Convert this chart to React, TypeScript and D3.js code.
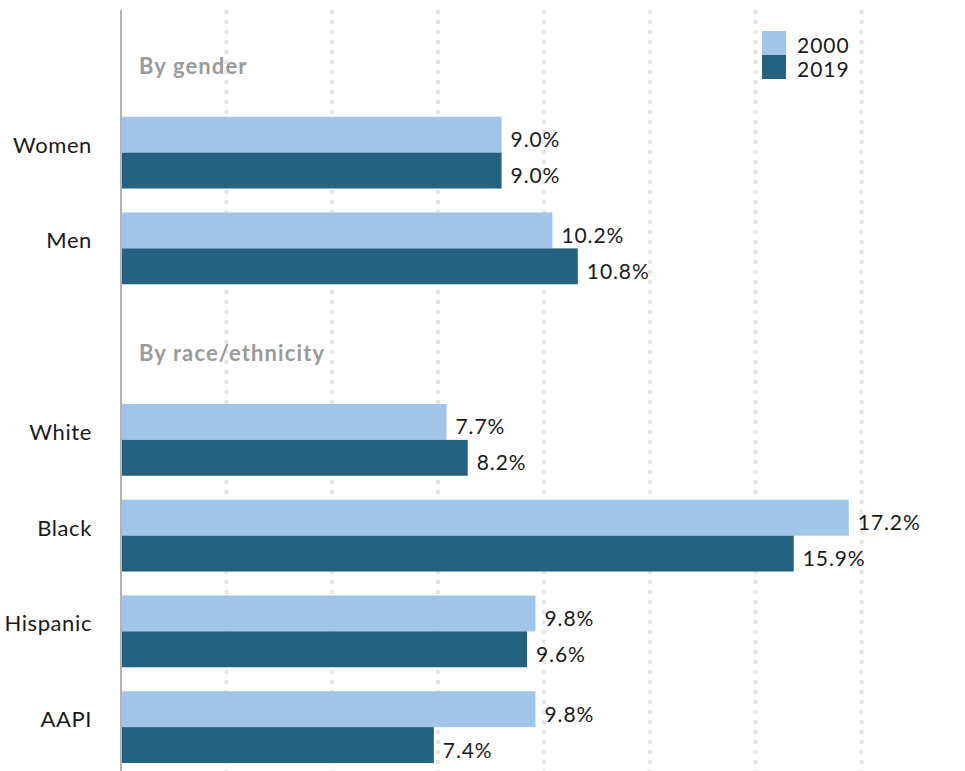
import React from "react";
import * as d3 from "d3";

const rowOrder = ["By gender", "Women", "Men", "By race/ethnicity", "White", "Black", "Hispanic", "AAPI"];
const headings = ["By gender", "By race/ethnicity"];
const groups = ["Women", "Men", "White", "Black", "Hispanic", "AAPI"];
const values2000 = [9.0, 10.2, 7.7, 17.2, 9.8, 9.8];
const values2019 = [9.0, 10.8, 8.2, 15.9, 9.6, 7.4];
const seriesNames = ["2000", "2019"];
const gridTicks = [2.5, 5, 7.5, 10, 12.5, 15, 17.5];

const W = 965;
const H = 771;
const colors = ["#a0c5e8", "#256282"];
const FONT = "Lato, 'Open Sans', sans-serif";

export default function App() {
  const x = d3.scaleLinear().domain([0, 17.5]).range([120.5, 861.5]);
  const y = d3.scaleBand<string>().domain(rowOrder).range([9, 775]).paddingInner(0.25).paddingOuter(0.125);
  const sub = d3.scaleBand<string>().domain(seriesNames).range([0, y.bandwidth()]).padding(0);
  const series = [values2000, values2019];

  return (
    <svg width={W} height={H} style={{ position: "absolute", left: 0, top: 0, background: "#fff" }} fontFamily={FONT}>
      {gridTicks.map((t) => (
        <line key={t} x1={x(t)} x2={x(t)} y1={10} y2={H} stroke="#e6e6e6" strokeWidth={4} strokeDasharray="4,6" />
      ))}
      {headings.map((h) => (
        <text key={h} x={139} y={(y(h) as number) + y.bandwidth() / 2 + 17} fontSize={22} fontWeight={700} fill="#9a9a9a" letterSpacing={1.1}>
          {h}
        </text>
      ))}
      {groups.map((g, i) => {
        const y0 = y(g) as number;
        return (
          <g key={g}>
            <text x={92} y={y0 + y.bandwidth() / 2} textAnchor="end" fontSize={22} fill="#1a1a1a" letterSpacing={0.6}>
              {g}
            </text>
            {seriesNames.map((s, j) => {
              const v = series[j][i];
              const by = y0 + (sub(s) as number);
              return (
                <g key={s}>
                  <rect x={x(0)} y={by} width={x(v) - x(0)} height={sub.bandwidth()} fill={colors[j]} />
                  <text x={x(v) + 9} y={by + sub.bandwidth() / 2 + 12.5} fontSize={21} fill="#1a1a1a" letterSpacing={0.9}>
                    {v.toFixed(1)}%
                  </text>
                </g>
              );
            })}
          </g>
        );
      })}
      <line x1={121} x2={121} y1={10} y2={H} stroke="#b3b3b3" strokeWidth={2} />
      {seriesNames.map((s, j) => (
        <g key={s}>
          <rect x={762} y={31 + j * 24} width={24} height={24} fill={colors[j]} />
          <text x={797} y={52.5 + j * 24} fontSize={21} fill="#1a1a1a" letterSpacing={1}>
            {s}
          </text>
        </g>
      ))}
    </svg>
  );
}
